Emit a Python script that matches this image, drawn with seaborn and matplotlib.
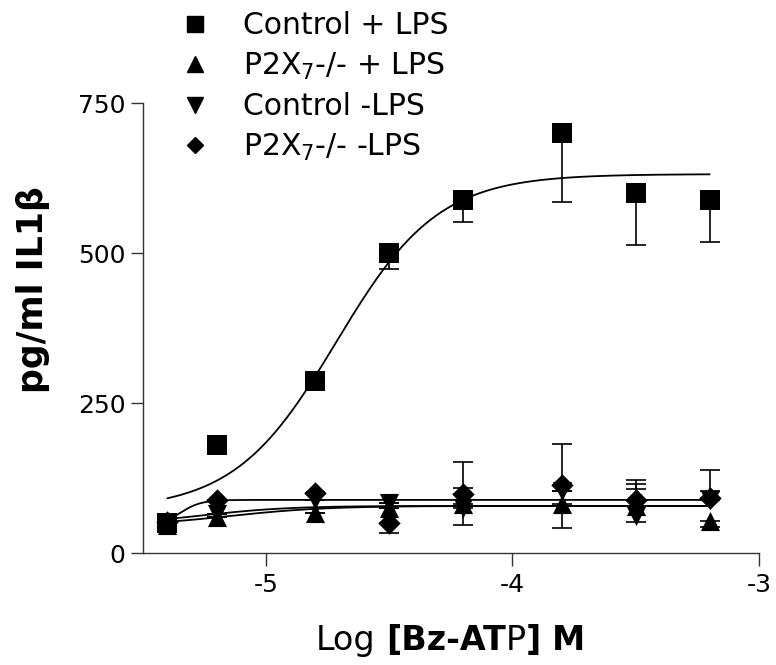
import numpy as np
import pandas as pd
import matplotlib
matplotlib.use('Agg')
import matplotlib.pyplot as plt
import seaborn as sns
from matplotlib.lines import Line2D

# log concentration of Bz-ATP (M)
log_atp = [-5.4, -5.2, -4.8, -4.5, -4.2, -3.8, -3.5, -3.2]

groups = ['Control + LPS', 'P2X$_7$-/- + LPS', 'Control -LPS', 'P2X$_7$-/- -LPS']
markers = ['s', '^', 'v', 'D']
marker_area = [190, 190, 190, 130]
legend_msize = [11, 11, 11, 8.5]

# means (pg/ml IL1b)
ctrl_lps = [50, 181, 287, 500, 588, 701, 601, 589]
ko_lps = [48, 60, 68, 76, 82, 82, 79, 54]
ctrl_nolps = [49, 66, 88, 84, 76, 104, 62, 88]
ko_nolps = [52, 88, 100, 50, 98, 113, 88, 92]

# error bars (below / above the mean)
ctrl_lps_lo = [0, 0, 0, 27, 36, 115, 88, 70]
ctrl_lps_hi = [0, 0, 0, 0, 0, 0, 0, 0]
ko_lps_lo = [0, 0, 0, 0, 0, 40, 0, 10]
ko_lps_hi = [0, 0, 0, 0, 26, 0, 36, 0]
ctrl_nolps_lo = [0, 0, 0, 0, 29, 0, 10, 0]
ctrl_nolps_hi = [0, 0, 0, 0, 0, 0, 45, 15]
ko_nolps_lo = [0, 0, 0, 16, 0, 0, 0, 0]
ko_nolps_hi = [0, 0, 0, 0, 54, 69, 34, 47]

# sigmoidal fits: bottom, top, logEC50, hill slope
fit_ctrl_lps = [72, 632, -4.715, 2.1]
fit_ko_lps = [45, 79, -5.15, 2.2]
fit_ctrl_nolps = [48, 79, -5.25, 2.5]
fit_ko_nolps = [45, 89, -5.35, 10]

means = [ctrl_lps, ko_lps, ctrl_nolps, ko_nolps]
lows = [ctrl_lps_lo, ko_lps_lo, ctrl_nolps_lo, ko_nolps_lo]
highs = [ctrl_lps_hi, ko_lps_hi, ctrl_nolps_hi, ko_nolps_hi]
fits = [fit_ctrl_lps, fit_ko_lps, fit_ctrl_nolps, fit_ko_nolps]


def hill(x, bottom, top, logec50, slope):
    return bottom + (top - bottom) / (1 + 10 ** ((logec50 - x) * slope))


sns.set_style('ticks')
plt.rcParams['font.family'] = ['DejaVu Sans']
plt.rcParams['mathtext.fontset'] = 'dejavusans'
plt.rcParams['axes.unicode_minus'] = False
plt.rcParams['text.color'] = 'black'
plt.rcParams['axes.labelcolor'] = 'black'

fig = plt.figure(figsize=(7.76, 6.65), dpi=100)
ax = fig.add_axes([142.7 / 776, 1 - 553.3 / 665, (759 - 142.7) / 776, 450 / 665])

rows = []
for g, m in zip(groups, means):
    for x, y in zip(log_atp, m):
        rows.append({'group': g, 'logc': x, 'il1b': y})
df = pd.DataFrame(rows)

fit_x = np.linspace(min(log_atp), max(log_atp), 300)
for p in fits:
    sns.lineplot(x=fit_x, y=hill(fit_x, *p), color='black', lw=1.3, ax=ax)

for m, lo, hi in zip(means, lows, highs):
    ax.errorbar(log_atp, m, yerr=[lo, hi], fmt='none', ecolor='black',
                elinewidth=1.2, capsize=7, capthick=1.2, zorder=2)

for g, mk, s in zip(groups, markers, marker_area):
    sns.scatterplot(data=df[df['group'] == g], x='logc', y='il1b', marker=mk,
                    color='black', s=s, linewidth=0, legend=False, ax=ax, zorder=3)

ax.set_xlim(-5.5, -3)
ax.set_ylim(0, 750)
ax.set_xticks([-5, -4, -3])
ax.set_yticks([0, 250, 500, 750])
sns.despine(ax=ax)
for s in ['left', 'bottom']:
    ax.spines[s].set_color('#333333')
    ax.spines[s].set_linewidth(1.0)
ax.tick_params(length=9, width=1.0, color='#333333', labelcolor='black', labelsize=18)
ax.tick_params(axis='y', pad=3.5)
ax.tick_params(axis='x', pad=5)

ax.set_xlabel('')
ax.set_ylabel('pg/ml IL1β', fontsize=25, fontweight='bold', color='black')
ax.yaxis.set_label_coords(-0.15, 0.585)

# x label with mixed weights
pieces = [('Log', 'normal', 0), ('[Bz-AT', 'bold', 7.6), ('P', 'normal', 0),
          (']', 'bold', 0), ('M', 'bold', 7.6)]
t = fig.text(316 / 776, 15 / 665, pieces[0][0], fontsize=24,
             fontweight=pieces[0][1], va='baseline', ha='left', color='black')
for txt, w, gap in pieces[1:]:
    t = ax.annotate(txt, xy=(1, 0), xycoords=t, xytext=(gap, 0),
                    textcoords='offset points', va='bottom', ha='left',
                    fontsize=24, fontweight=w, color='black', annotation_clip=False)

handles = [Line2D([], [], marker=mk, ls='none', color='black', markersize=ms)
           for mk, ms in zip(markers, legend_msize)]
leg = fig.legend(handles, groups, loc='upper left', bbox_to_anchor=(180 / 776, 1 - 11 / 665),
                 frameon=False, fontsize=21.5, handlelength=1.0, handletextpad=1.1,
                 labelspacing=0.35, borderpad=0, borderaxespad=0)
for txt in leg.get_texts():
    txt.set_color('black')

fig.savefig('out.png', dpi=100)
